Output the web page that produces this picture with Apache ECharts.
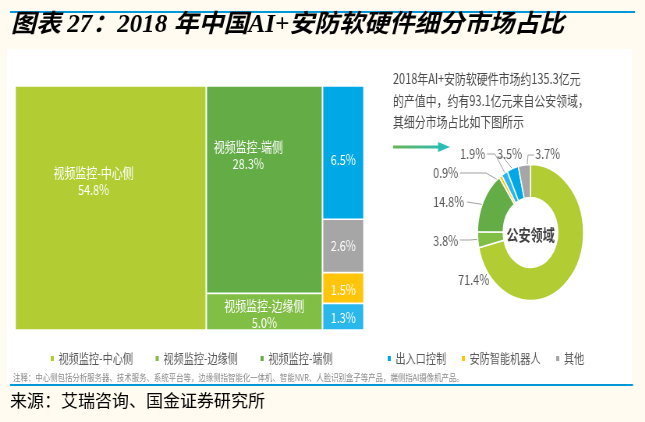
<!DOCTYPE html>
<html>
<head>
<meta charset="utf-8">
<script src="https://cdn.jsdelivr.net/npm/echarts/dist/echarts.min.js"></script>
<style>
html,body{margin:0;padding:0;background:#FFFBF1;overflow:hidden;width:645px;height:422px;}
#c{width:827px;height:422px;transform:scaleX(0.78);transform-origin:0 0;}
</style>
</head>
<body>
<div id="c"></div>
<script>
// horizontal squeeze of the pasted infographic
const S = 0.78;

// ---- texts ----
const titleText = '图表 27：2018 年中国AI+安防软硬件细分市场占比';
const sourceText = '来源：艾瑞咨询、国金证券研究所';
const noteText = '注释：中心侧包括分析服务器、技术服务、系统平台等，边缘侧指智能化一体机、智能NVR、人脸识别盒子等产品，端侧指AI摄像机产品。';
const introLines = ['2018年AI+安防软硬件市场约135.3亿元', '的产值中，约有93.1亿元来自公安领域，', '其细分市场占比如下图所示'];
const donutCenterText = '公安领域';

// ---- treemap data (AI+安防 market, %) ----
const cellNames  = ['视频监控-中心侧', '视频监控-端侧', '视频监控-边缘侧', '出入口控制', '其他', '安防智能机器人', '出入口控制-其他'];
const cellValues = [54.8, 28.3, 5.0, 6.5, 2.6, 1.5, 1.3];
const cellGroups = [0, 1, 1, 2, 2, 2, 2];

// ---- donut data (公安领域, %) ----
const sliceNames  = ['视频监控-中心侧', '视频监控-边缘侧', '视频监控-端侧', '安防智能机器人', '出入口控制-其他', '出入口控制', '其他'];
const sliceValues = [71.4, 3.8, 14.8, 0.9, 1.9, 3.5, 3.7];

// ---- legend ----
const legendLeft  = ['视频监控-中心侧', '视频监控-边缘侧', '视频监控-端侧'];
const legendRight = ['出入口控制', '安防智能机器人', '其他'];

// ---- styles ----
const colorOf = {
  '视频监控-中心侧': '#B2CD33',
  '视频监控-边缘侧': '#80BE45',
  '视频监控-端侧': '#63AC46',
  '出入口控制': '#00A9E6',
  '出入口控制-其他': '#2AB7EC',
  '安防智能机器人': '#FFC50B',
  '其他': '#A6A6A6'
};
const cellLabelAnchor = {
  '视频监控-中心侧': [0.41, 0.39],
  '视频监控-端侧': [0.36, 0.33],
  '视频监控-边缘侧': [0.5, 0.56],
  '出入口控制': [0.5, 0.55],
  '其他': [0.5, 0.5],
  '安防智能机器人': [0.5, 0.57],
  '出入口控制-其他': [0.5, 0.56]
};
// donut label placement, reference pixel coords (x is divided by S)
const pieLabelLayout = [
  {x: 458, y: 280, line: null},
  {x: 433, y: 241, line: [[482, 239], [470, 240], [460, 240]]},
  {x: 433, y: 202, line: [[496, 209], [480, 204], [467, 202]]},
  {x: 433, y: 173, line: [[503, 183], [486, 173], [460, 173]]},
  {x: 460, y: 154, line: [[507, 177], [495, 154], [487, 154]]},
  {x: 497, y: 154, line: [[514, 171], [503, 157], [497, 157]]},
  {x: 535, y: 154, line: [[527, 167], [528, 155], [534, 155]]}
];

const FONT = '"Noto Sans CJK SC", "Noto Sans", sans-serif';

// ---- build mosaic cells from values ----
const groupTotals = [];
cellValues.forEach((v, i) => { const g = cellGroups[i]; groupTotals[g] = (groupTotals[g] || 0) + v; });
const grand = groupTotals.reduce((a, b) => a + b, 0);
const groupStart = [];
let acc = 0;
groupTotals.forEach((t, g) => { groupStart[g] = acc; acc += t / grand * 100; });
const yAcc = [];
const mosaicData = cellValues.map((v, i) => {
  const g = cellGroups[i];
  const x0 = groupStart[g], x1 = x0 + groupTotals[g] / grand * 100;
  const y0 = yAcc[g] || 0, y1 = y0 + v / groupTotals[g] * 100;
  yAcc[g] = y1;
  return {name: cellNames[i], value: [x0, x1, y0, y1, v]};
});

const pieData = sliceValues.map((v, i) => ({
  name: sliceNames[i],
  value: v,
  itemStyle: {color: colorOf[sliceNames[i]]},
  labelLine: {show: !!pieLabelLayout[i].line}
}));

const chart = echarts.init(document.getElementById('c'));

const gfx = [
  {type: 'rect', shape: {x: 7 / S, y: 49, width: 625 / S, height: 335}, style: {fill: '#FFFFFF'}, z: -10},
  {type: 'rect', shape: {x: 10 / S, y: 11, width: 625 / S, height: 2}, style: {fill: '#0098D8'}},
  {type: 'rect', shape: {x: 10 / S, y: 384, width: 623 / S, height: 2}, style: {fill: '#0098D8'}},
  {type: 'text', x: 11 / S, y: 26, scaleX: 1 / S,
    style: {text: titleText, fontSize: 25, fontWeight: 'bold', fontStyle: 'italic',
      fontFamily: '"Liberation Serif", "Noto Sans CJK SC", serif', fill: '#000', verticalAlign: 'middle'}},
  {type: 'text', x: 10 / S, y: 401, scaleX: 1 / S,
    style: {text: sourceText, fontSize: 17, fontFamily: FONT, fill: '#000', verticalAlign: 'middle'}},
  {type: 'text', x: 13 / S, y: 377,
    style: {text: noteText, fontSize: 9.5, fontFamily: FONT, fill: '#8a8a8a', verticalAlign: 'middle'}},
  {type: 'text', x: 530.5 / S, y: 235,
    style: {text: donutCenterText, fontSize: 15.5, fontWeight: 'bold', fontFamily: FONT, fill: '#404040',
      align: 'center', verticalAlign: 'middle'}},
  {type: 'rect', shape: {x: 393 / S, y: 145.5, width: (440 - 393) / S, height: 3},
    style: {fill: new echarts.graphic.LinearGradient(0, 0, 1, 0, [{offset: 0, color: '#6BB556'}, {offset: 1, color: '#2DBDB0'}])}},
  {type: 'polygon', shape: {points: [[438 / S, 142], [450 / S, 147], [438 / S, 152]]}, style: {fill: '#27BEB3'}}
];
introLines.forEach((t, i) => {
  gfx.push({type: 'text', x: 393 / S, y: 79 + i * 21.5,
    style: {text: t, fontSize: 14, fontFamily: FONT, fill: '#4a4a4a', verticalAlign: 'middle'}});
});

const legendCommon = {
  top: 347, icon: 'rect', itemWidth: 6, itemHeight: 7, orient: 'horizontal',
  textStyle: {fontSize: 13, color: '#595959', fontFamily: FONT}, selectedMode: false
};

chart.setOption({
  backgroundColor: 'transparent',
  animation: false,
  graphic: gfx,
  legend: [
    Object.assign({data: legendLeft, left: 58, itemGap: 27}, legendCommon),
    Object.assign({data: legendRight, left: 490, itemGap: 18}, legendCommon)
  ],
  grid: {left: 15 / S, top: 86, width: (364 - 15) / S, height: 244},
  xAxis: {type: 'value', min: 0, max: 100, show: false},
  yAxis: {type: 'value', min: 0, max: 100, inverse: true, show: false},
  series: [
    {
      type: 'custom',
      name: 'AI+安防软硬件市场',
      data: mosaicData,
      encode: {x: [0, 1], y: [2, 3]},
      renderItem: function (params, api) {
        const i = params.dataIndex;
        const p0 = api.coord([api.value(0), api.value(2)]);
        const p1 = api.coord([api.value(1), api.value(3)]);
        const gx = 1.0, gy = 0.8;
        const x = p0[0] + gx, y = p0[1] + gy;
        const w = p1[0] - p0[0] - 2 * gx, h = p1[1] - p0[1] - 2 * gy;
        const name = cellNames[i];
        const anc = cellLabelAnchor[name] || [0.5, 0.5];
        const txt = (w > 80 ? name + '\n' : '') + api.value(4).toFixed(1) + '%';
        return {
          type: 'group',
          children: [
            {type: 'rect', shape: {x: x, y: y, width: w, height: h}, style: {fill: colorOf[name]}},
            {type: 'text', x: x + w * anc[0], y: y + h * anc[1], z2: 10,
              style: {text: txt, fill: '#FFFFFF', fontSize: 14, fontFamily: FONT,
                align: 'center', verticalAlign: 'middle', lineHeight: 17}}
          ]
        };
      }
    },
    {
      type: 'pie',
      name: '公安领域',
      center: [530.5 / S, 232.5],
      radius: [35, 68],
      startAngle: 90,
      clockwise: true,
      avoidLabelOverlap: false,
      data: pieData,
      itemStyle: {borderColor: '#FFFFFF', borderWidth: 1.5},
      label: {show: true, position: 'outside', formatter: p => p.value.toFixed(1) + '%',
        fontSize: 14, color: '#595959', fontFamily: FONT},
      labelLine: {show: true, lineStyle: {color: '#A0A0A0', width: 1}},
      labelLayout: function (params) {
        const L = pieLabelLayout[params.dataIndex];
        const out = {x: L.x / S, y: L.y, align: 'left', verticalAlign: 'middle'};
        if (L.line) out.labelLinePoints = L.line.map(p => [p[0] / S, p[1]]);
        return out;
      },
      emphasis: {disabled: true}
    }
  ]
});
</script>
</body>
</html>
